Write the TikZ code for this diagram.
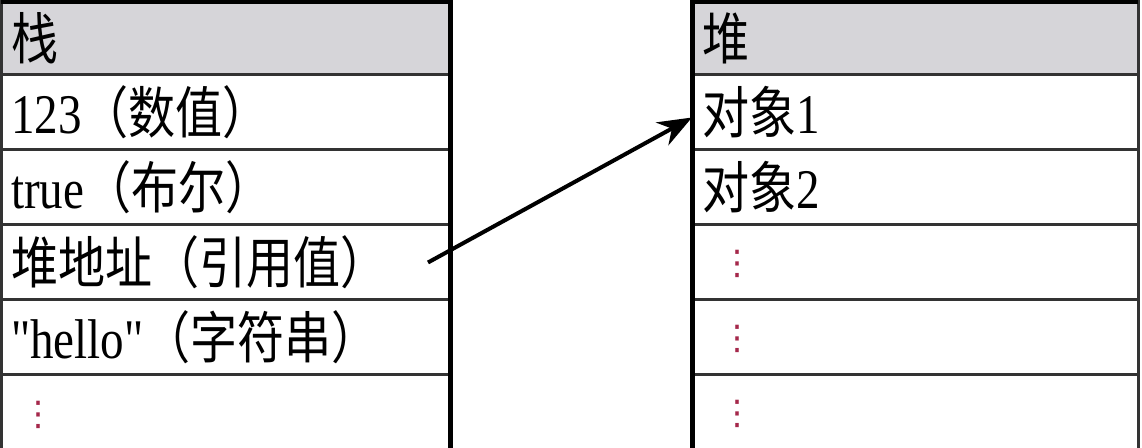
\documentclass[tikz,border=0pt]{standalone}
\usepackage{fontspec}
\setmainfont{Liberation Serif}[FakeStretch=0.84, Ligatures=TeXOff]
\newfontfamily\cjk{Noto Sans CJK SC}[FakeStretch=0.84]
\newfontfamily\symfont{DejaVu Sans}
\usepackage{tikz}
\usetikzlibrary {arrows.meta, positioning}
\definecolor{headgray}{RGB}{214,213,217}
\definecolor{dotred}{RGB}{165,40,75}

\begin{document}
\begin{tikzpicture}[>={Stealth[length=17pt,width=13pt]}, node distance=0pt, font=\fontsize{28pt}{32pt}\selectfont]
        \tikzstyle{cell}=[draw=black!80, line width=1.5pt, outer sep=0pt, inner xsep=5pt, inner ysep=0pt, minimum height=37.5pt, align=left, anchor=north west]
        \tikzstyle{stackcell}=[cell, text width=214.5pt]
        \tikzstyle{heapcell}=[cell, text width=213pt]
        \tikzstyle{head}=[fill=headgray, minimum height=36.5pt]
        \tikzstyle{last}=[minimum height=46pt]
        \tikzstyle{border}=[line width=2.5pt, black]
        \tikzstyle{dotmark}=[text=dotred, font=\symfont\fontsize{17pt}{20pt}\selectfont, inner sep=0pt]
        \useasboundingbox (0,0) rectangle (571pt,-224pt);
        % stack
        \node[stackcell, head] (s0) at (0.5pt,-1pt) {\cjk 栈};
        \node[stackcell]       (s1) [below=of s0] {123\cjk（数值）};
        \node[stackcell]       (s2) [below=of s1] {true\cjk（布尔）};
        \node[stackcell]       (s3) [below=of s2] {\cjk 堆地址（引用值）};
        \node[stackcell]       (s4) [below=of s3] {"hello"\cjk（字符串）};
        \node[stackcell, last] (s5) [below=of s4] {};
        % heap
        \node[heapcell, head] (h0) at (346pt,-1pt) {\cjk 堆};
        \node[heapcell]       (h1) [below=of h0] {\cjk 对象\normalfont 1};
        \node[heapcell]       (h2) [below=of h1] {\cjk 对象\normalfont 2};
        \node[heapcell]       (h3) [below=of h2] {};
        \node[heapcell]       (h4) [below=of h3] {};
        \node[heapcell, last] (h5) [below=of h4] {};
        \draw[border] (s0.north west) -- (s0.north east) -- (s5.south east);
        \draw[border] (h5.south west) -- (h0.north west) -- (h0.north east);
        % dots
        \node[dotmark] (sdots) at ([xshift=18.5pt,yshift=-20pt]s5.north west) {⋮};
        \foreach \c in {h3,h4,h5}
          \node[dotmark] (\c dots) at ([xshift=22.5pt,yshift=-19.5pt]\c.north west) {⋮};
        % reference
        \coordinate (ptr) at ([xshift=-11pt]s3.east);
        \draw[->, line width=2pt] (ptr) -- ([yshift=-2.5pt]h1.west);
      \end{tikzpicture}
\end{document}
